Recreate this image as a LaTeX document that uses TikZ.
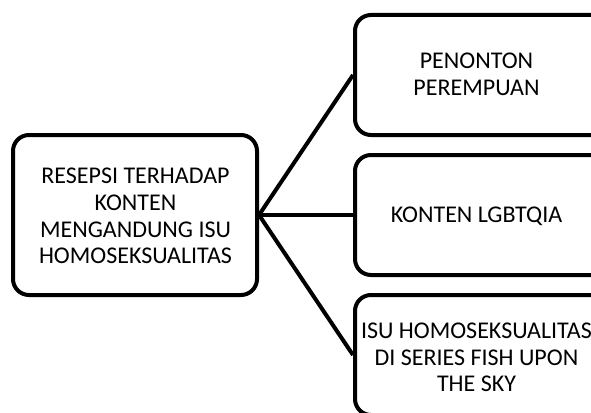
\documentclass[tikz,border=0pt]{standalone}
\usepackage{fontspec}
\setmainfont{Carlito}
\begin{document}
\begin{tikzpicture}[x=1pt,y=-1pt,
  box/.style={draw=black, line width=4pt, rounded corners=16pt, fill=white,
    inner sep=0pt},
  label/.style={align=center, font=\fontsize{24}{26.7}\selectfont, inner sep=0pt},
  conn/.style={draw=black, line width=4pt}]
\useasboundingbox (0,0) rectangle (591,412);
\begin{scope}
\clip (0,0) rectangle (591,412);
\node[box, minimum width=244pt, minimum height=160pt] (L) at (135,215) {};
\node[box, minimum width=300pt, minimum height=120pt] (A) at (505,75) {};
\node[box, minimum width=300pt, minimum height=120pt] (B) at (505,215) {};
\node[box, minimum width=300pt, minimum height=120pt] (C) at (505,355) {};
\node[label] (Ct) at (476.5,357.5) {ISU HOMOSEKSUALITAS\\DI SERIES FISH UPON\\THE SKY};
\end{scope}
\node[label] (Lt) at (135.5,216)
  {RESEPSI TERHADAP\\KONTEN\\MENGANDUNG ISU\\HOMOSEKSUALITAS};
\node[label] (At) at (476.5,74.5) {PENONTON\\PEREMPUAN};
\node[label] (Bt) at (476.5,216) {KONTEN LGBTQIA};
\draw[conn] (L.east) -- (A.west);
\draw[conn] (L.east) -- (B.west);
\draw[conn] (L.east) -- (C.west);
\end{tikzpicture}
\end{document}
